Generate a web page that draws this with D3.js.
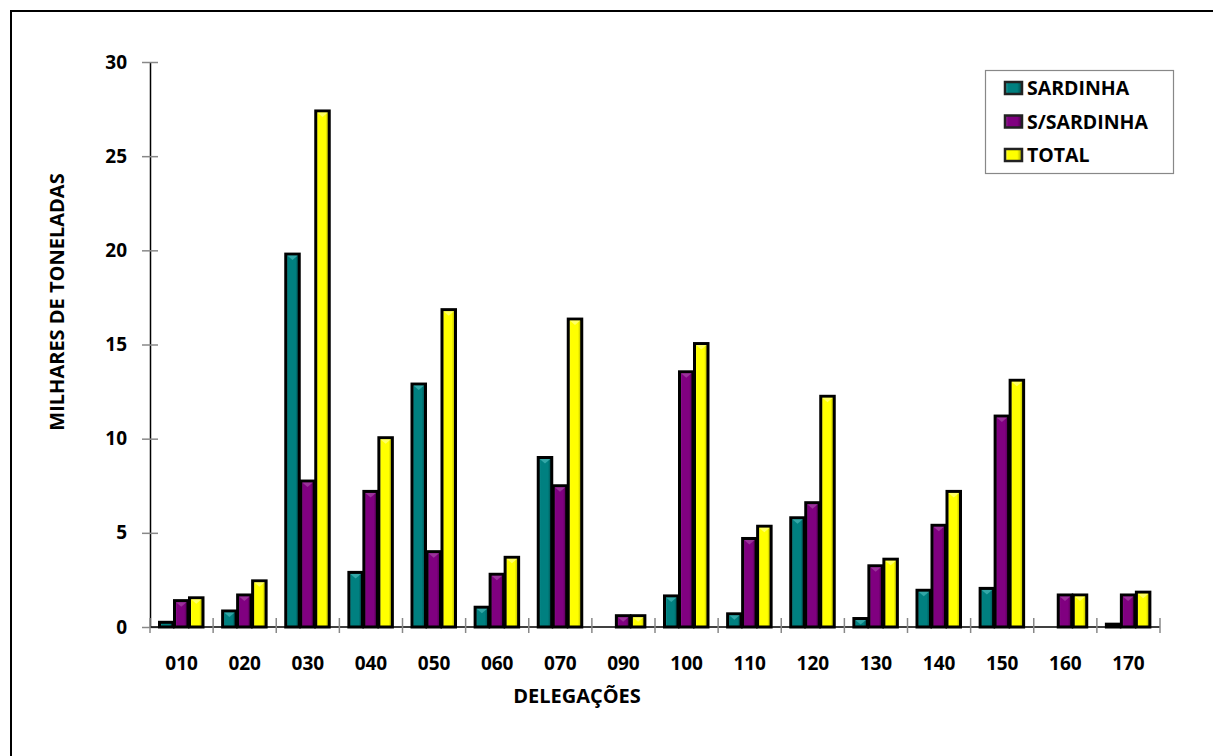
<!DOCTYPE html>
<html><head><meta charset="utf-8">
<script src="https://cdn.jsdelivr.net/npm/d3@7"></script>
<style>body{margin:0;background:#fff}svg{display:block;font-family:"Open Sans",sans-serif}</style>
</head><body><svg id="c" width="1213" height="756"></svg>
<script>
const categories=["010","020","030","040","050","060","070","090","100","110","120","130","140","150","160","170"];
const seriesNames=["SARDINHA","S/SARDINHA","TOTAL"];
const sardinha=[0.25,0.85,19.8,2.9,12.9,1.05,9.0,0,1.65,0.7,5.8,0.45,1.95,2.05,0,0.15];
const semSardinha=[1.4,1.7,7.75,7.2,4.0,2.8,7.5,0.6,13.55,4.7,6.6,3.25,5.4,11.2,1.7,1.7];
const total=[1.55,2.45,27.4,10.05,16.85,3.7,16.35,0.6,15.05,5.35,12.25,3.6,7.2,13.1,1.7,1.85];
const yTicks=[0,5,10,15,20,25,30];
const colors=["#008080","#800080","#ffff00"];
const light=["#3fb0b0","#a040a0","#ffff80"];
const dark=["#004848","#480048","#a0a000"];
const FONT='"Open Sans",sans-serif';

const svg=d3.select("#c");
svg.append("rect").attr("x",11).attr("y",11).attr("width",1210).attr("height",760).attr("fill","#fff").attr("stroke","#000").attr("stroke-width",2);

const defs=svg.append("defs");
colors.forEach((c,i)=>{
  const g=defs.append("linearGradient").attr("id","g"+i).attr("x1","0").attr("x2","1").attr("y1","0").attr("y2","0");
  g.append("stop").attr("offset","0%").attr("stop-color",light[i]);
  g.append("stop").attr("offset","18%").attr("stop-color",c);
  g.append("stop").attr("offset","72%").attr("stop-color",c);
  g.append("stop").attr("offset","100%").attr("stop-color",dark[i]);
});

const x=d3.scaleBand().domain(categories).range([150,1160]);
const xs=d3.scaleBand().domain(seriesNames).range([8,53]);
const y=d3.scaleLinear().domain([0,30]).range([627,62]);

// y axis
const ya=svg.append("g").attr("transform","translate(150,0)").call(d3.axisLeft(y).tickValues(yTicks).tickSize(0).tickPadding(23));
ya.select(".domain").attr("stroke","#000").attr("stroke-width",1.5);
ya.selectAll(".tick line").remove();
ya.selectAll(".tick").append("line").attr("x1",-8).attr("x2",8).attr("stroke","#888").attr("stroke-width",1.5);
ya.selectAll("text").attr("font-size",19).attr("font-weight","bold").attr("fill","#000").attr("font-family",FONT);

const data=[sardinha,semSardinha,total];
const gBars=svg.append("g");
categories.forEach((cat,ci)=>{
  seriesNames.forEach((s,si)=>{
    const v=data[si][ci];
    if(v<=0) return;
    const x0=x(cat)+xs(s), w=xs.bandwidth(), yt=y(v), h=y(0)-yt;
    gBars.append("rect").attr("x",x0+1.5).attr("y",yt).attr("width",w-1.5).attr("height",h)
      .attr("fill","url(#g"+si+")").attr("stroke","#000").attr("stroke-width",3);
    if(h>8){
      gBars.append("path").attr("d",`M${x0+3},${yt+1.5}L${x0+w-1.5},${yt+1.5}L${x0+w/2+0.75},${yt+6}Z`).attr("fill",light[si]).attr("opacity",0.8);
    }
  });
});

// x axis
const xa=svg.append("g").attr("transform","translate(0,627)");
xa.append("line").attr("x1",150).attr("x2",1160).attr("stroke","#000").attr("stroke-width",1.5);
xa.selectAll(".xt").data(categories.concat(["end"])).enter().append("line")
  .attr("x1",(d,i)=>150+i*x.bandwidth()).attr("x2",(d,i)=>150+i*x.bandwidth())
  .attr("y1",-9).attr("y2",6).attr("stroke","#888").attr("stroke-width",1.5);
xa.selectAll(".xl").data(categories).enter().append("text")
  .attr("x",d=>x(d)+x.bandwidth()/2).attr("y",43).attr("text-anchor","middle")
  .attr("font-size",19).attr("font-weight","bold").text(d=>d);

svg.append("text").attr("x",577).attr("y",703).attr("text-anchor","middle").attr("font-size",20).attr("font-weight","bold").text("DELEGAÇÕES");
svg.append("text").attr("transform","translate(64,302) rotate(-90)").attr("text-anchor","middle").attr("font-size",20).attr("font-weight","bold").text("MILHARES DE TONELADAS");

// legend
const lg=svg.append("g");
lg.append("rect").attr("x",985.5).attr("y",70.5).attr("width",188).attr("height",103).attr("fill","#fff").attr("stroke","#888").attr("stroke-width",1.2);
seriesNames.forEach((s,i)=>{
  const yy=88+i*33.5;
  lg.append("rect").attr("x",1005).attr("y",yy-6).attr("width",17).attr("height",12).attr("fill","url(#g"+i+")").attr("stroke","#222").attr("stroke-width",2.5);
  lg.append("text").attr("x",1027).attr("y",yy+7).attr("font-size",19.5).attr("font-weight","bold").text(s);
});
</script></body></html>
